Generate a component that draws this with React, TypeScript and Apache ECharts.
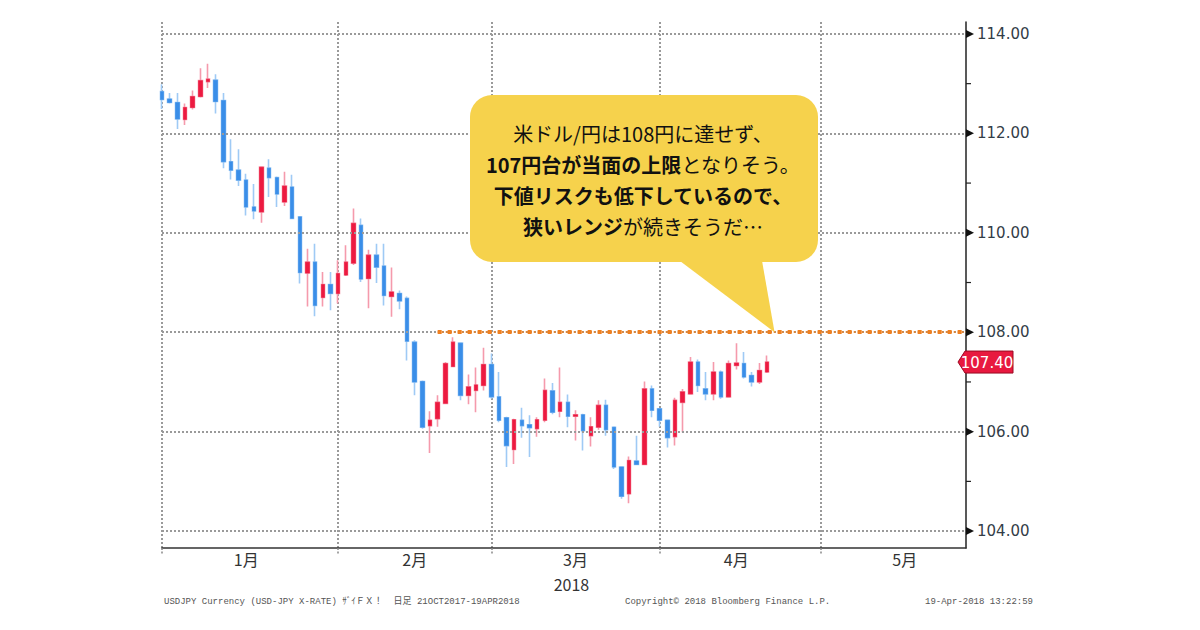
import React, { useEffect, useRef } from "react";
import * as echarts from "echarts";

// [open, close, low, high] per trading day, starting 2018-01-01
const ohlc: number[][] = [
  [112.84, 112.68, 112.49, 112.99],
  [112.69, 112.62, 112.6, 112.81],
  [112.62, 112.29, 112.09, 112.81],
  [112.28, 112.52, 112.17, 112.6],
  [112.52, 112.74, 112.48, 112.86],
  [112.74, 113.06, 112.72, 113.31],
  [113.04, 113.09, 112.91, 113.4],
  [113.07, 112.64, 112.4, 113.19],
  [112.66, 111.43, 111.3, 112.81],
  [111.43, 111.26, 111.07, 111.88],
  [111.26, 111.06, 110.94, 111.68],
  [111.06, 110.52, 110.35, 111.19],
  [110.52, 110.44, 110.27, 110.98],
  [110.42, 111.32, 110.2, 111.34],
  [111.3, 111.11, 110.72, 111.48],
  [111.11, 110.78, 110.52, 111.13],
  [110.62, 110.94, 110.54, 111.23],
  [110.92, 110.29, 110.27, 111.17],
  [110.32, 109.2, 108.98, 110.34],
  [109.19, 109.41, 108.52, 109.68],
  [109.41, 108.54, 108.32, 109.78],
  [108.7, 108.96, 108.52, 109.21],
  [108.96, 108.78, 108.44, 109.21],
  [108.78, 109.18, 108.58, 109.45],
  [109.15, 109.41, 109.13, 109.75],
  [109.39, 110.19, 109.35, 110.49],
  [110.15, 109.07, 109.01, 110.29],
  [109.08, 109.55, 108.48, 109.66],
  [109.55, 109.31, 108.99, 109.78],
  [109.33, 108.74, 108.54, 109.78],
  [108.72, 108.81, 108.31, 109.3],
  [108.78, 108.63, 108.46, 108.84],
  [108.68, 107.82, 107.43, 108.72],
  [107.8, 107.0, 106.73, 107.84],
  [107.01, 106.09, 106.06, 107.03],
  [106.12, 106.23, 105.57, 106.41],
  [106.26, 106.59, 106.1, 106.73],
  [106.57, 107.37, 106.56, 107.4],
  [107.31, 107.8, 107.3, 107.9],
  [107.78, 106.73, 106.63, 107.8],
  [106.73, 106.9, 106.55, 107.15],
  [106.83, 106.94, 106.39, 107.29],
  [106.93, 107.35, 106.83, 107.69],
  [107.35, 106.7, 106.66, 107.57],
  [106.7, 106.23, 106.19, 107.2],
  [106.28, 105.72, 105.29, 106.3],
  [105.64, 106.24, 105.35, 106.26],
  [106.23, 106.12, 105.88, 106.48],
  [106.14, 106.08, 105.49, 106.33],
  [106.06, 106.24, 105.9, 106.29],
  [106.23, 106.83, 106.19, 107.07],
  [106.82, 106.39, 106.35, 106.98],
  [106.41, 106.59, 106.29, 107.29],
  [106.59, 106.31, 106.09, 106.75],
  [106.31, 106.34, 105.82, 106.43],
  [106.34, 106.02, 105.62, 106.36],
  [105.92, 106.1, 105.7, 106.29],
  [106.09, 106.53, 106.04, 106.63],
  [106.53, 106.04, 105.92, 106.64],
  [106.09, 105.29, 105.25, 106.1],
  [105.29, 104.7, 104.65, 105.3],
  [104.75, 105.42, 104.56, 105.5],
  [105.41, 105.34, 105.33, 105.92],
  [105.34, 106.86, 105.33, 107.01],
  [106.86, 106.43, 106.29, 106.93],
  [106.46, 106.23, 106.1, 106.47],
  [106.23, 105.88, 105.68, 106.24],
  [105.9, 106.63, 105.72, 106.68],
  [106.59, 106.8, 105.99, 106.86],
  [106.76, 107.4, 106.75, 107.5],
  [107.4, 106.93, 106.8, 107.45],
  [106.86, 106.76, 106.63, 107.2],
  [106.76, 107.2, 106.63, 107.4],
  [107.2, 106.7, 106.66, 107.23],
  [106.7, 107.37, 106.68, 107.43],
  [107.33, 107.38, 107.25, 107.78],
  [107.37, 107.1, 107.07, 107.6],
  [107.13, 107.0, 106.91, 107.2],
  [107.0, 107.23, 106.96, 107.38],
  [107.2, 107.4, 107.18, 107.53],
];

const yMajorTicks = [104, 106, 108, 110, 112, 114];
const yMinorTicks = [105, 107, 109, 111, 113];
const yMin = 103.66;
const yMax = 114.24;
const monthLabels = ["1月", "2月", "3月", "4月", "5月"];
const monthLabelIdx = [11, 33, 54, 75, 97];
const yearLabel = "2018";
const resistance = 108;
const resistanceStartIdx = 36;
const lastPrice = 107.4;
const calloutTipIdx = 80;
const footerLeft = "USDJPY Currency (USD-JPY X-RATE) ｻﾞｲＦＸ！  日足 21OCT2017-19APR2018";
const footerMid = "Copyright© 2018 Bloomberg Finance L.P.";
const footerRight = "19-Apr-2018 13:22:59";

function buildCategories(): string[] {
  const out: string[] = [];
  const d = new Date(Date.UTC(2018, 0, 1));
  const end = Date.UTC(2018, 4, 28);
  while (d.getTime() <= end) {
    const wd = d.getUTCDay();
    if (wd !== 0 && wd !== 6) out.push(d.toISOString().slice(0, 10));
    d.setUTCDate(d.getUTCDate() + 1);
  }
  return out;
}

const categories = buildCategories();

export default function App() {
  const ref = useRef<HTMLDivElement>(null);
  useEffect(() => {
    if (!ref.current) return;
    const chart = echarts.init(ref.current, undefined, { renderer: "svg" });
    const monthStart = new Set<number>();
    categories.forEach((c, i) => {
      if (i === 0 || categories[i - 1].slice(5, 7) !== c.slice(5, 7)) monthStart.add(i);
    });
    const labelMap = new Map<number, string>();
    monthLabelIdx.forEach((idx, k) => labelMap.set(idx, monthLabels[k]));
    const gridDot = { color: "#9a9a9a", type: [2, 2] as number[], width: 2 };

    chart.setOption({
      animation: false,
      backgroundColor: "#ffffff",
      grid: { left: 162, right: 234, top: 22, bottom: 82, containLabel: false },
      xAxis: {
        type: "category",
        data: categories,
        boundaryGap: false,
        axisLine: { show: true, lineStyle: { color: "#333", width: 1.5 } },
        axisTick: {
          show: true,
          interval: (i: number) => monthStart.has(i),
          length: 6,
          lineStyle: { color: "#888", type: [2, 1.5], width: 1.5 },
        },
        axisLabel: {
          interval: (i: number) => labelMap.has(i),
          formatter: (_v: string, i: number) => labelMap.get(i) || "",
          color: "#333",
          fontSize: 16,
          lineHeight: 18,
          fontFamily: "Noto Sans CJK JP",
          margin: 2,
        },
        splitLine: {
          show: true,
          interval: (i: number) => monthStart.has(i),
          lineStyle: gridDot,
        },
      },
      yAxis: {
        type: "value",
        position: "right",
        min: yMin,
        max: yMax,
        splitNumber: 5,
        axisLine: { show: true, lineStyle: { color: "#222", width: 1.5 } },
        axisTick: { show: false },
        splitLine: { show: false },
        axisLabel: {
          showMinLabel: false,
          showMaxLabel: false,
          margin: 11,
          color: "#333d47",
          fontSize: 15,
          fontFamily: "DejaVu Sans",
          formatter: (v: number) =>
            yMajorTicks.some((t) => Math.abs(t - v) < 1e-6) ? v.toFixed(2) : "",
        },
      },
      series: [
        {
          type: "line",
          data: [],
          z: 1,
          silent: true,
          markLine: {
            silent: true,
            symbol: ["none", "none"],
            label: { show: false },
            lineStyle: gridDot,
            data: yMajorTicks.map((v) => ({ yAxis: v })),
          },
        },
        {
          type: "candlestick",
          data: ohlc.map(([o, c, l, h]) => [o, c, l, h]),
          barWidth: 4,
          z: 2,
          itemStyle: {
            color: "#f59aac",
            color0: "#9fcaf5",
            borderColor: "#f59aac",
            borderColor0: "#9fcaf5",
            borderWidth: 1.6,
          },
        },
        {
          type: "candlestick",
          data: ohlc.map(([o, c]) => [o, c, Math.min(o, c), Math.max(o, c)]),
          barWidth: 4,
          z: 3,
          itemStyle: {
            color: "#ec1a40",
            color0: "#3a8ee8",
            borderColor: "#ec1a40",
            borderColor0: "#3a8ee8",
            borderWidth: 0.6,
          },
          markLine: {
            silent: true,
            symbol: ["none", "none"],
            label: { show: false },
            data: [
              [
                { coord: [categories[resistanceStartIdx], resistance], lineStyle: { color: "#f08020", width: 4, type: [4, 6] } },
                { coord: [categories[categories.length - 1], resistance] },
              ],
              [
                { coord: [categories[resistanceStartIdx], resistance], lineStyle: { color: "#f08020", width: 1.6, type: [2, 2] } },
                { coord: [categories[categories.length - 1], resistance] },
              ],
            ],
          },
        },
      ],
    });

    const xr = chart.convertToPixel({ xAxisIndex: 0 }, categories[categories.length - 1]) as number;
    const yPx = (v: number) => chart.convertToPixel({ yAxisIndex: 0 }, v) as number;
    const graphics: any[] = [];
    yMajorTicks.forEach((v) => {
      const y = yPx(v);
      graphics.push({
        type: "polygon",
        z: 50,
        shape: { points: [[xr, y - 4], [xr + 8, y], [xr, y + 4]] },
        style: { fill: "#111" },
      });
    });
    yMinorTicks.forEach((v) => {
      const y = yPx(v);
      graphics.push({
        type: "line",
        z: 50,
        shape: { x1: xr, y1: y, x2: xr + 5, y2: y },
        style: { stroke: "#222", lineWidth: 1.2 },
      });
    });
    const yp = yPx(lastPrice);
    graphics.push({
      type: "polygon",
      z: 60,
      shape: {
        points: [[xr - 8, yp], [xr - 1, yp - 11], [xr + 47, yp - 11], [xr + 47, yp + 11], [xr - 1, yp + 11]],
      },
      style: { fill: "#e8193f", stroke: "#9a0a22", lineWidth: 1 },
    });
    graphics.push({
      type: "text",
      z: 61,
      style: {
        text: lastPrice.toFixed(2),
        x: xr + 21,
        y: yp + 1,
        align: "center",
        verticalAlign: "middle",
        fill: "#ffffff",
        font: "15px 'DejaVu Sans'",
      },
    });

    // callout balloon
    const tipX = chart.convertToPixel({ xAxisIndex: 0 }, categories[calloutTipIdx]) as number;
    const tipY = yPx(resistance);
    graphics.push({
      type: "polygon",
      z: 70,
      shape: { points: [[672, 255], [761, 255], [tipX, tipY]] },
      style: { fill: "#f6d24c" },
    });
    graphics.push({
      type: "rect",
      z: 70,
      shape: { x: 470, y: 95, width: 348, height: 167, r: 22 },
      style: { fill: "#f6d24c" },
    });
    graphics.push({
      type: "text",
      z: 71,
      style: {
        x: 643,
        y: 180,
        align: "center",
        verticalAlign: "middle",
        text:
          "{n|米ドル/円は108円に達せず、}\n{b|107円台が当面の上限}{n|となりそう。}\n{b|下値リスクも低下しているので、}\n{b|狭いレンジ}{n|が続きそうだ…}",
        rich: {
          n: { fontSize: 20, fontWeight: "normal", lineHeight: 31, fill: "#111", fontFamily: "Noto Sans CJK JP" },
          b: { fontSize: 20, fontWeight: "bold", lineHeight: 31, fill: "#111", fontFamily: "Noto Sans CJK JP" },
        },
      },
    });

    // year label under the March label
    const yearX = chart.convertToPixel({ xAxisIndex: 0 }, categories[monthLabelIdx[2]]) as number;
    graphics.push({
      type: "text",
      z: 40,
      style: {
        text: yearLabel,
        x: yearX - 4,
        y: 584,
        align: "center",
        verticalAlign: "middle",
        fill: "#333",
        font: "16px 'Noto Sans CJK JP'",
      },
    });
    const footerFont = "9px 'Liberation Mono', 'Noto Sans CJK JP'";
    graphics.push({
      type: "text",
      z: 40,
      style: { text: footerLeft, x: 164, y: 602, verticalAlign: "middle", fill: "#555", font: footerFont },
    });
    graphics.push({
      type: "text",
      z: 40,
      style: { text: footerMid, x: 625, y: 602, verticalAlign: "middle", fill: "#555", font: footerFont },
    });
    graphics.push({
      type: "text",
      z: 40,
      style: { text: footerRight, x: 925, y: 602, verticalAlign: "middle", fill: "#555", font: footerFont },
    });

    chart.setOption({ graphic: graphics });
    return () => chart.dispose();
  }, []);

  return (
    <div
      ref={ref}
      style={{ position: "absolute", left: 0, top: 0, width: 1200, height: 630, background: "#fff" }}
    />
  );
}
